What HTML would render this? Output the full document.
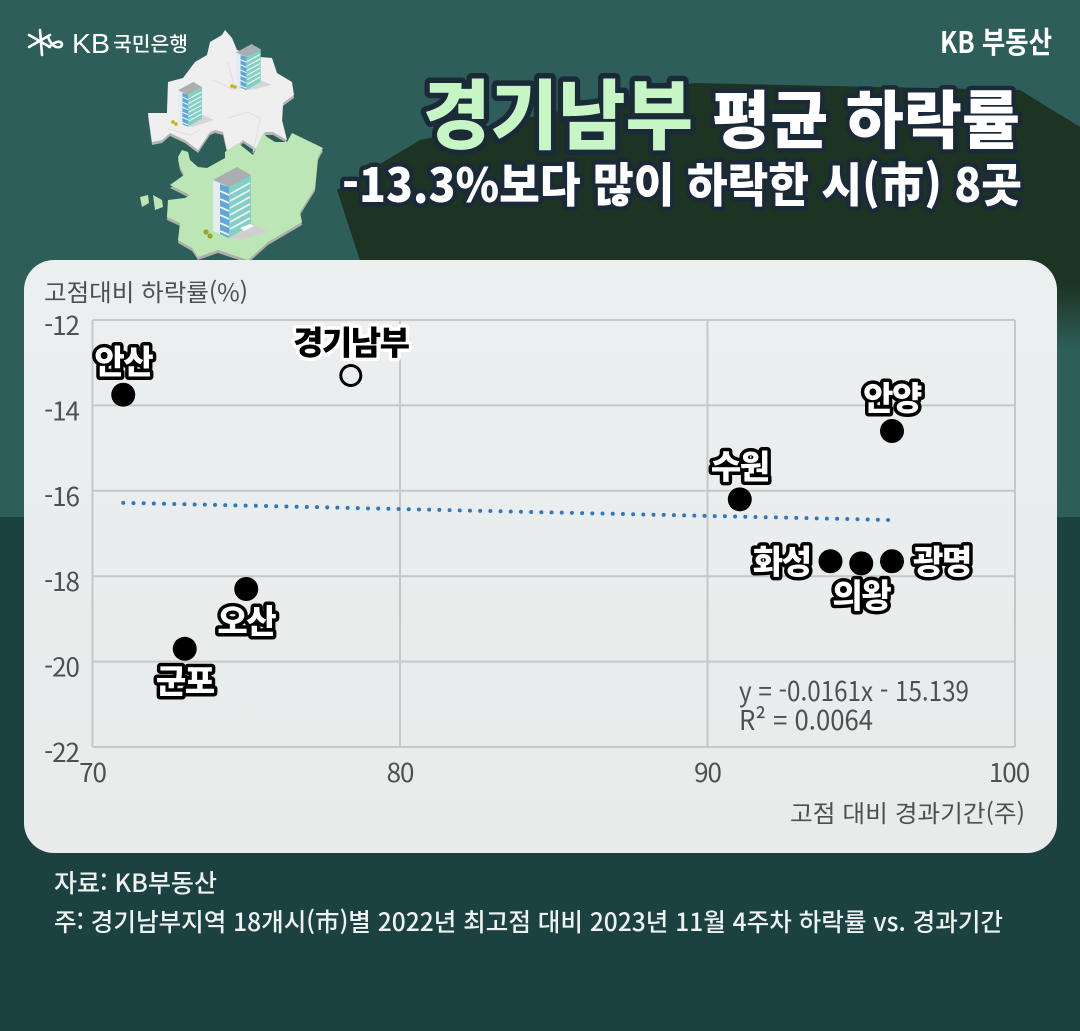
<!DOCTYPE html>
<html lang="ko">
<head>
<meta charset="utf-8">
<title>경기남부 평균 하락률</title>
<style>
html,body{margin:0;padding:0;background:#1b4140;}
#stage{display:block;width:1080px;height:1031px;}
text{font-family:"Liberation Sans","Noto Sans CJK KR",sans-serif;}
.kr{font-family:"Noto Sans CJK KR","Liberation Sans",sans-serif;}
</style>
</head>
<body>
<svg id="stage" xmlns="http://www.w3.org/2000/svg" width="1080" height="1031" viewBox="0 0 1080 1031">
<defs>
<linearGradient id="darkFade" gradientUnits="userSpaceOnUse" x1="0" y1="285" x2="0" y2="348">
<stop offset="0" stop-color="#1e3422"/><stop offset="1" stop-color="#2e5e59"/>
</linearGradient>
<linearGradient id="cardFill" x1="0" y1="0" x2="0" y2="1">
<stop offset="0" stop-color="#eceff0"/><stop offset="1" stop-color="#e8ebea"/>
</linearGradient>
<g id="bldg">
<polygon points="0,13 16,20 16,71 0,64" fill="#e4ecf0"/>
<polygon points="7,17 16,20 16,71 7,67" fill="#5fa6dc"/>
<polygon points="16,20 38,8 38,58 16,71" fill="#84cfc4"/>
<polygon points="0,13 24,0 38,8 16,20" fill="#a9aeb0"/>
<g stroke="#eaf5f4" stroke-width="1.8">
<line x1="17" y1="27" x2="37" y2="16"/><line x1="17" y1="34" x2="37" y2="23"/><line x1="17" y1="41" x2="37" y2="30"/><line x1="17" y1="48" x2="37" y2="37"/><line x1="17" y1="55" x2="37" y2="44"/><line x1="17" y1="62" x2="37" y2="51"/>
<line x1="7" y1="24" x2="16" y2="28"/><line x1="7" y1="32" x2="16" y2="36"/><line x1="7" y1="40" x2="16" y2="44"/><line x1="7" y1="48" x2="16" y2="52"/><line x1="7" y1="56" x2="16" y2="60"/><line x1="7" y1="64" x2="16" y2="68"/>
</g>
</g>
</defs>

<rect x="0" y="0" width="1080" height="517" fill="#2e5e59"/>
<rect x="0" y="517" width="1080" height="514" fill="#1b4140"/>
<polygon points="337,190 420,140 694,83 1020,90 1080,127 1080,285 368,285" fill="#1e3422"/>
<rect x="360" y="285" width="720" height="63" fill="url(#darkFade)"/>

<g>
<g stroke="#fff" stroke-width="2.6" fill="none" stroke-linecap="round">
<line x1="29" y1="35" x2="50" y2="47"/><line x1="29" y1="47" x2="50" y2="35"/><line x1="40" y1="30" x2="42" y2="55"/>
<path d="M48 37 q3 8 8 10 q6 1 6 -3 q-1 -3 -5 -2 q-4 1 -8 5"/>
</g>
<text x="72" y="53" font-size="28" fill="#fff" textLength="38" lengthAdjust="spacingAndGlyphs">KB</text>
<text class="kr" x="113" y="51" font-size="20" font-weight="500" fill="#fff" textLength="75" lengthAdjust="spacingAndGlyphs">국민은행</text>
</g>
<text class="kr" x="940" y="53" font-size="30" font-weight="700" fill="#fff" textLength="112" lengthAdjust="spacingAndGlyphs">KB 부동산</text>

<g>
<polygon transform="translate(0,3)" points="225,30 232,38 237,50 260,57 272,58 277,73 292,82 294,95 283,103 282,120 287,140 273,132 265,132 258,150 243,140 235,148 227,150 223,132 215,130 210,132 198,150 185,140 170,133 162,140 152,142 148,113 167,113 168,82 183,78 195,62 207,55 210,42 222,35" fill="#b4b4b4"/>
<polygon points="225,30 232,38 237,50 260,57 272,58 277,73 292,82 294,95 283,103 282,120 287,140 273,132 265,132 258,150 243,140 235,148 227,150 223,132 215,130 210,132 198,150 185,140 170,133 162,140 152,142 148,113 167,113 168,82 183,78 195,62 207,55 210,42 222,35" fill="#efefef"/>
<g fill="none" stroke="#dfdfdf" stroke-width="1">
<path d="M253 153 L260 118 L248 112 L228 118"/><path d="M228 62 L235 90 L212 80"/><path d="M168 129 L190 135 L200 130"/>
</g>
<polygon transform="translate(0,3)" points="263,133 253,155 238,143 225,152 225,158 207,168 198,167 190,160 188,152 182,150 178,157 180,167 184,175 170,185 190,195 185,198 168,200 167,217 180,223 178,240 192,248 198,257 218,250 248,260 268,242 285,232 302,222 300,212 315,188 318,157 323,148 292,133 287,142 275,142 267,137" fill="#aab0a8"/>
<polygon points="263,133 253,155 238,143 225,152 225,158 207,168 198,167 190,160 188,152 182,150 178,157 180,167 184,175 170,185 190,195 185,198 168,200 167,217 180,223 178,240 192,248 198,257 218,250 248,260 268,242 285,232 302,222 300,212 315,188 318,157 323,148 292,133 287,142 275,142 267,137" fill="#bde6b7"/>
<polygon points="140,197 148,195 149,203 142,207" fill="#bde6b7"/>
<polygon points="153,195 162,200 163,207 155,210" fill="#bde6b7"/>
<polygon points="227,237 250,222 268,232 242,240" fill="#cfcfcf"/>
<polygon points="237,88 260,80 272,85 250,90" fill="#d6d6d6"/>
<polygon points="183,125 203,115 214,120 193,127" fill="#d6d6d6"/>
<use href="#bldg" transform="translate(178,82) scale(0.63)"/>
<use href="#bldg" transform="translate(236,44) scale(0.65)"/>
<use href="#bldg" transform="translate(213,167)"/>
<polygon points="240,228 250,224 254,226 244,231" fill="#fff"/>
<g>
<circle cx="206" cy="232" r="2.6" fill="#9aa520"/><circle cx="210" cy="236" r="2.6" fill="#9aa520"/>
<circle cx="232" cy="86" r="1.8" fill="#c8b000"/><circle cx="235" cy="87" r="1.8" fill="#c8b000"/>
<circle cx="173" cy="122" r="1.8" fill="#c8b000"/><circle cx="176" cy="124" r="1.8" fill="#c8b000"/>
</g>
</g>

<g>
<g font-weight="900" stroke="#1b2a38" stroke-linejoin="round" paint-order="stroke" class="kr">
<text class="kr" x="423" y="143" font-size="76" fill="#c6f6c4" stroke-width="11" textLength="270" lengthAdjust="spacingAndGlyphs">경기남부</text>
<text class="kr" x="712" y="143" font-size="63" fill="#fff" stroke-width="9" textLength="308" lengthAdjust="spacingAndGlyphs">평균 하락률</text>
<text class="kr" x="342" y="202" font-size="47" fill="#fff" stroke-width="9" textLength="680" lengthAdjust="spacingAndGlyphs">-13.3%보다 많이 하락한 시(市) 8곳</text>
</g>
</g>

<rect x="24" y="260" width="1033" height="593" rx="30" ry="30" fill="url(#cardFill)"/>
<g id="chart"></g>

<text class="kr" x="54" y="892" font-size="25" font-weight="500" fill="#eef3f1" textLength="163" lengthAdjust="spacingAndGlyphs">자료: KB부동산</text>
<text class="kr" x="54" y="931" font-size="25" font-weight="500" fill="#eef3f1" textLength="949" lengthAdjust="spacingAndGlyphs">주: 경기남부지역 18개시(市)별 2022년 최고점 대비 2023년 11월 4주차 하락률 vs. 경과기간</text>

<script>
var cities = ['안산','경기남부','안양','수원','화성','의왕','광명','오산','군포'];
var weeksSincePeak = [71,78.4,96,91.05,94,95,96,75,73];
var declineRates = [-13.75,-13.3,-14.6,-16.2,-17.65,-17.7,-17.65,-18.3,-19.7];
var labelSides = ['above','above','above','above','left','below','right','below','below'];
var averageCity = '경기남부';
var xTicks = [70,80,90,100];
var yTicks = [-12,-14,-16,-18,-20,-22];
var trendSlope = -0.0161;
var trendIntercept = -15.139;
var trendRange = [71,96.1];

var NS = 'http://www.w3.org/2000/svg';
var chart = document.getElementById('chart');
function xScale(v){ return 92.5 + (v - 70) * (1015 - 92.5) / 30; }
function yScale(v){ return 320 + (-12 - v) * (747 - 320) / 10; }
function make(tag, attrs, text){
  var el = document.createElementNS(NS, tag);
  for (var k in attrs) el.setAttribute(k, attrs[k]);
  if (text !== undefined) el.textContent = text;
  chart.appendChild(el);
  return el;
}

yTicks.forEach(function(t){
  var g = make('line', {x1:xScale(70), x2:xScale(100), y1:yScale(t), y2:yScale(t), stroke:'#c4c8c9', 'stroke-width':2});
  
  
  var l = make('text', {class:'kr', x:79, y:yScale(t)+15, 'text-anchor':'end', 'font-size':26, fill:'#4c5050', 'letter-spacing':'-1'}, String(t));
  
  
});
xTicks.forEach(function(t){
  var g = make('line', {x1:xScale(t), x2:xScale(t), y1:yScale(-12), y2:yScale(-22), stroke:'#c4c8c9', 'stroke-width':2});
  
  
  var l = make('text', {class:'kr', x:Math.min(xScale(t),1009), y:782, 'text-anchor':'middle', 'font-size':26, fill:'#4c5050', 'letter-spacing':'-1'}, String(t));
  
  
});

var yTitle = make('text', {class:'kr', x:44, y:301, 'font-size':24, fill:'#4c5050', textLength:204, lengthAdjust:'spacingAndGlyphs'}, '고점대비 하락률(%)');


var xTitle = make('text', {class:'kr', x:790, y:822, 'font-size':24, fill:'#4c5050', textLength:235, lengthAdjust:'spacingAndGlyphs'}, '고점 대비 경과기간(주)');



var trend = make('line', {
  x1:xScale(trendRange[0]), y1:yScale(trendSlope*trendRange[0]+trendIntercept),
  x2:xScale(trendRange[1]), y2:yScale(trendSlope*trendRange[1]+trendIntercept),
  stroke:'#2f78c0', 'stroke-width':4, 'stroke-linecap':'round', 'stroke-dasharray':'0 10.2'
});



var eq = make('text', {class:'kr', x:739, y:701, 'font-size':27, fill:'#4c5050', textLength:230, lengthAdjust:'spacingAndGlyphs'}, 'y = -0.0161x - 15.139');


var r2 = make('text', {class:'kr', x:739, y:730, 'font-size':27, fill:'#4c5050', textLength:134, lengthAdjust:'spacingAndGlyphs'}, 'R² = 0.0064');



cities.forEach(function(name, i){
  var px = xScale(weeksSincePeak[i]);
  var py = yScale(declineRates[i]);
  var isAvg = name === averageCity;
  var dot = make('circle', isAvg
    ? {cx:px, cy:py, r:10, fill:'#eceff0', stroke:'#000', 'stroke-width':3}
    : {cx:px, cy:py, r:12, fill:'#000'});
  
  

  var side = labelSides[i];
  var lx = px, ly = py, anchor = 'middle';
  if (side === 'above') { ly = py - 21; }
  if (side === 'below') { ly = py + 44; }
  if (side === 'left') { lx = px - 20; ly = py + 12; anchor = 'end'; }
  if (side === 'right') { lx = px + 21; ly = py + 12; anchor = 'start'; }
  var lab = make('text', {
    class:'kr', x:lx, y:ly, 'text-anchor':anchor, 'font-size':33, 'font-weight':900,
    fill:isAvg ? '#000' : '#fff', stroke:isAvg ? '#fff' : '#000', 'stroke-width':7,
    'stroke-linejoin':'round', 'paint-order':'stroke', 'letter-spacing':'-1.5'
  }, name);
  
  
});
</script>
</svg>
</body>
</html>
